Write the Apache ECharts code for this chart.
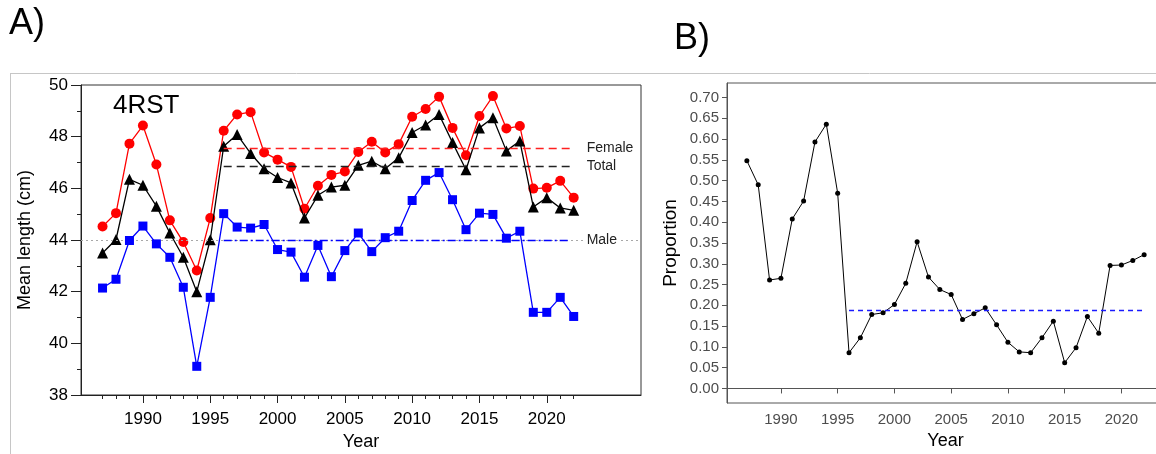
<!DOCTYPE html>
<html>
<head>
<meta charset="utf-8">
<script src="https://cdn.jsdelivr.net/npm/echarts@6/dist/echarts.min.js"></script>
<style>
  html, body { margin: 0; padding: 0; background: #fff; }
  #chart { width: 1156px; height: 454px; }
</style>
</head>
<body>
<div id="chart"></div>
<script>
// survey years
var years = [1987, 1988, 1989, 1990, 1991, 1992, 1993, 1994, 1995, 1996, 1997, 1998,
  1999, 2000, 2001, 2002, 2003, 2004, 2005, 2006, 2007, 2008, 2009, 2010,
  2011, 2012, 2013, 2014, 2015, 2016, 2017, 2018, 2019, 2020, 2021, 2022];

// A) mean length (cm), 4RST
var female = [44.52, 45.04, 47.73, 48.43, 46.92, 44.76, 43.92, 42.82, 44.85, 48.23, 48.86, 48.95,
  47.39, 47.11, 46.83, 45.21, 46.10, 46.52, 46.65, 47.41, 47.80, 47.39, 47.71, 48.77,
  49.07, 49.55, 48.34, 47.28, 48.80, 49.57, 48.32, 48.41, 45.99, 46.02, 46.29, 45.64];
var total = [43.50, 44.02, 46.35, 46.12, 45.31, 44.27, 43.33, 42.00, 44.01, 47.63, 48.08, 47.35,
  46.76, 46.42, 46.21, 44.85, 45.73, 46.05, 46.12, 46.89, 47.05, 46.76, 47.18, 48.16,
  48.45, 48.86, 47.77, 46.72, 48.34, 48.73, 47.45, 47.83, 45.28, 45.64, 45.24, 45.15];
var male = [42.14, 42.48, 43.98, 44.54, 43.85, 43.33, 42.17, 39.11, 41.78, 45.02, 44.50, 44.46,
  44.60, 43.63, 43.53, 42.56, 43.79, 42.58, 43.59, 44.27, 43.55, 44.09, 44.34, 45.53,
  46.31, 46.61, 45.56, 44.40, 45.04, 44.99, 44.07, 44.34, 41.20, 41.20, 41.78, 41.04];

// reference means (period 1996 onward)
var femaleMean = 47.57;
var totalMean = 46.85;
var maleMean = 44.0;
var refLevel = 44.0;
var refStart = 1996;
var refEnd = 2021.7;

// B) proportion
var proportion = [0.548, 0.490, 0.261, 0.265, 0.408, 0.451, 0.593, 0.636, 0.470, 0.086, 0.122, 0.178,
  0.182, 0.202, 0.253, 0.353, 0.268, 0.238, 0.226, 0.166, 0.180, 0.194, 0.153, 0.111,
  0.088, 0.086, 0.122, 0.162, 0.062, 0.098, 0.173, 0.133, 0.296, 0.297, 0.308, 0.322];
var propMean = 0.188;
var propStart = 1996;
var propEnd = 2022;

// tick labels
var yearLabels = [1990, 1995, 2000, 2005, 2010, 2015, 2020];
var propTicks = [0, 0.05, 0.10, 0.15, 0.20, 0.25, 0.30, 0.35, 0.40, 0.45, 0.50, 0.55, 0.60, 0.65, 0.70];

var font = "'Liberation Sans', Arial, sans-serif";

function pairs(vals) {
  return years.map(function (y, i) { return [y, vals[i]]; });
}

function yearText(v) { return String(Math.round(v)); }

var chart = echarts.init(document.getElementById('chart'), null, { renderer: 'canvas' });

chart.setOption({
  animation: false,
  textStyle: { fontFamily: font },
  graphic: [
    { type: 'line', shape: { x1: 10, y1: 73.5, x2: 1156, y2: 73.5 }, style: { stroke: '#c6c6c6', lineWidth: 1 } },
    { type: 'line', shape: { x1: 10.5, y1: 73, x2: 10.5, y2: 454 }, style: { stroke: '#c6c6c6', lineWidth: 1 } },
    { type: 'text', left: 9, top: 6, style: { text: 'A)', font: '36px ' + font, fill: '#000' } },
    { type: 'text', left: 674, top: 21, style: { text: 'B)', font: '36px ' + font, fill: '#000' } },
    { type: 'text', left: 113, top: 93, style: { text: '4RST', font: '26px ' + font, fill: '#000' } }
  ],
  grid: [
    { left: 81, top: 85, width: 560, height: 310, outerBoundsMode: 'none', show: true, borderColor: '#333', borderWidth: 1 },
    { left: 727, top: 83, width: 437, height: 320, outerBoundsMode: 'none', show: true, borderColor: '#555', borderWidth: 1 }
  ],
  xAxis: [
    {
      gridIndex: 0, type: 'value', min: 1985.4, max: 2027, position: 'bottom',
      name: 'Year', nameLocation: 'middle', nameGap: 38,
      nameTextStyle: { fontSize: 18, color: '#000', fontFamily: font },
      axisLine: { show: true, lineStyle: { color: '#222', width: 1 } },
      axisTick: { show: true, length: 8, customValues: yearLabels, lineStyle: { color: '#222' } },
      axisLabel: { customValues: yearLabels, formatter: yearText, fontSize: 17, color: '#000', margin: 16, fontFamily: font },
      splitLine: { show: false }
    },
    {
      gridIndex: 0, type: 'value', min: 1985.4, max: 2027, position: 'bottom', offset: 0,
      axisLine: { show: false },
      axisTick: { show: true, length: 4, customValues: years, lineStyle: { color: '#222' } },
      axisLabel: { show: false },
      splitLine: { show: false }
    },
    {
      gridIndex: 1, type: 'value', min: 1985.25, max: 2023.75, position: 'bottom',
      name: 'Year', nameLocation: 'middle', nameGap: 28,
      nameTextStyle: { fontSize: 18, color: '#000', fontFamily: font },
      axisLine: { show: true, lineStyle: { color: '#555', width: 1 } },
      axisTick: { show: true, length: 5, customValues: yearLabels, lineStyle: { color: '#555' } },
      axisLabel: { customValues: yearLabels, formatter: yearText, fontSize: 15, color: '#4d4d4d', margin: 9, fontFamily: font },
      splitLine: { show: false }
    }
  ],
  yAxis: [
    {
      gridIndex: 0, type: 'value', min: 38, max: 50, interval: 2,
      name: 'Mean length (cm)', nameLocation: 'middle', nameGap: 47,
      nameTextStyle: { fontSize: 18, color: '#000', fontFamily: font },
      axisLine: { show: true, lineStyle: { color: '#222', width: 1 } },
      axisTick: { show: true, length: 10, lineStyle: { color: '#222' } },
      minorTick: { show: true, splitNumber: 2, length: 4, lineStyle: { color: '#222' } },
      axisLabel: { fontSize: 17, color: '#000', margin: 13, fontFamily: font },
      splitLine: { show: false }
    },
    {
      gridIndex: 1, type: 'value', min: -0.035, max: 0.735,
      name: 'Proportion', nameLocation: 'middle', nameGap: 47,
      nameTextStyle: { fontSize: 19, color: '#000', fontFamily: font },
      axisLine: { show: true, lineStyle: { color: '#555', width: 1 } },
      axisTick: { show: true, length: 5, customValues: propTicks, lineStyle: { color: '#555' } },
      axisLabel: {
        customValues: propTicks, fontSize: 15, color: '#4d4d4d', margin: 8, fontFamily: font,
        formatter: function (v) { return v.toFixed(2); }
      },
      splitLine: { show: false }
    }
  ],
  series: [
    {
      // grey dotted reference across the whole panel
      type: 'line', xAxisIndex: 0, yAxisIndex: 0, data: [], z: 1,
      markLine: {
        silent: true, symbol: 'none',
        lineStyle: { color: '#a8a8a8', type: [2, 3], width: 1.2 },
        label: { show: false },
        data: [{ yAxis: refLevel }]
      }
    },
    {
      name: 'Female', type: 'line', xAxisIndex: 0, yAxisIndex: 0, z: 3,
      data: pairs(female),
      symbol: 'circle', symbolSize: 10,
      itemStyle: { color: '#ff0000' },
      lineStyle: { color: '#ff0000', width: 1.3 },
      markLine: {
        silent: true, symbol: 'none',
        lineStyle: { color: '#ff2020', type: [8, 5], width: 1.3 },
        label: { show: true, position: 'end', distance: 17, formatter: 'Female', fontSize: 14, color: '#222', fontFamily: font },
        data: [[{ coord: [refStart, femaleMean] }, { coord: [refEnd, femaleMean] }]]
      }
    },
    {
      name: 'Total', type: 'line', xAxisIndex: 0, yAxisIndex: 0, z: 4,
      data: pairs(total),
      symbol: 'triangle', symbolSize: 11,
      itemStyle: { color: '#000' },
      lineStyle: { color: '#000', width: 1.3 },
      markLine: {
        silent: true, symbol: 'none',
        lineStyle: { color: '#222', type: [8, 5], width: 1.3 },
        label: { show: true, position: 'end', distance: 17, formatter: 'Total', fontSize: 14, color: '#222', fontFamily: font },
        data: [[{ coord: [refStart, totalMean] }, { coord: [refEnd, totalMean] }]]
      }
    },
    {
      name: 'Male', type: 'line', xAxisIndex: 0, yAxisIndex: 0, z: 5,
      data: pairs(male),
      symbol: 'rect', symbolSize: 9,
      itemStyle: { color: '#0000ff' },
      lineStyle: { color: '#0000ff', width: 1.3 },
      markLine: {
        silent: true, symbol: 'none',
        lineStyle: { color: '#0000ff', type: [8, 3, 2, 3], width: 1.3, opacity: 1 },
        label: {
          show: true, position: 'end', distance: 14, formatter: 'Male', fontSize: 14, color: '#222', fontFamily: font,
          backgroundColor: '#fff', padding: [0, 3, 0, 3]
        },
        data: [[{ coord: [refStart, maleMean] }, { coord: [refEnd, maleMean] }]]
      }
    },
    {
      name: 'Proportion', type: 'line', xAxisIndex: 2, yAxisIndex: 1, z: 3,
      data: pairs(proportion),
      symbol: 'circle', symbolSize: 5,
      itemStyle: { color: '#000' },
      lineStyle: { color: '#000', width: 1 },
      markLine: {
        silent: true, symbol: 'none',
        lineStyle: { color: '#1a1aff', type: [5, 4], width: 1.3 },
        label: { show: false },
        data: [[{ coord: [propStart, propMean] }, { coord: [propEnd, propMean] }]]
      }
    }
  ]
});
</script>
</body>
</html>
